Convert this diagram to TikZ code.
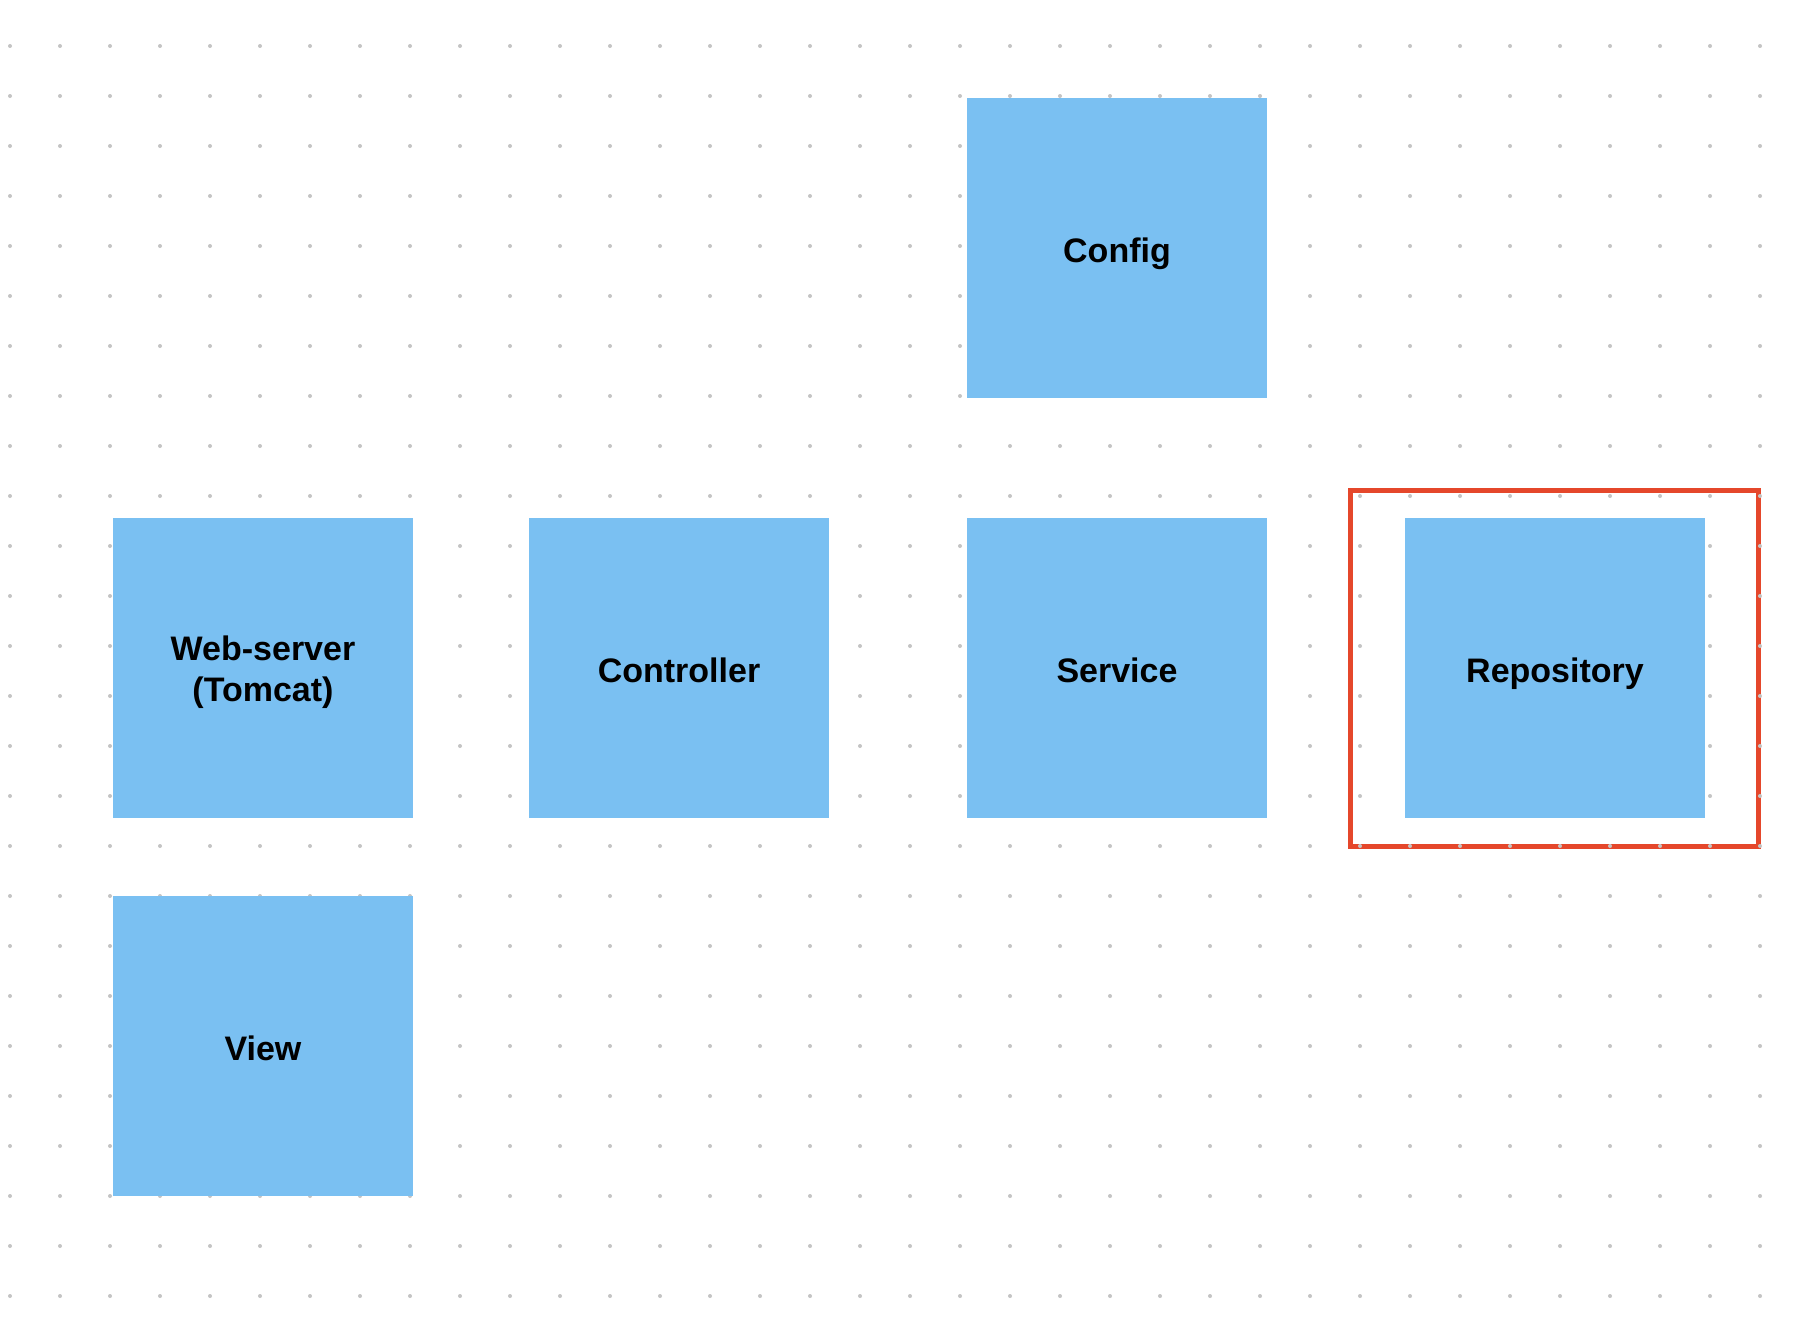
\documentclass[tikz,border=0pt]{standalone}
\usepackage{fontspec}
\setmainfont{Liberation Sans}
\definecolor{boxblue}{HTML}{7AC0F2}
\definecolor{dotgray}{HTML}{C4C4C4}
\definecolor{hlred}{HTML}{E5472B}
\begin{document}
\begin{tikzpicture}[x=1pt,y=-1pt,
  blockbase/.style={fill=boxblue, draw=none, minimum width=300pt, minimum height=300pt, inner sep=0pt, align=center, font=\bfseries\fontsize{34}{41}\selectfont, text=black},
  block/.style={blockbase, text height=30pt, text depth=2pt},
  highlight/.style={draw=hlred, line width=5pt}]
\useasboundingbox (0,0) rectangle (1798,1330);
\fill[white] (0,0) rectangle (1798,1330);
% highlight frame
\draw[highlight] (1350,490) rectangle (1758,846.5);
% dot grid
\foreach \i in {0,...,35}{
  \foreach \j in {0,...,25}{
    \fill[dotgray] (10+50*\i,46+50*\j) circle (2);
  }
}
% boxes
\node[block] (config) at (1117,248) {Config};
\node[blockbase] (web) at (263,668) {\rule{0pt}{33.5pt}Web-server\\(Tomcat)};
\node[block] (controller) at (679,668) {Controller};
\node[block] (service) at (1117,668) {Service};
\node[block] (repo) at (1555,668) {Repository};
\node[block] (view) at (263,1046) {View};
\end{tikzpicture}
\end{document}
